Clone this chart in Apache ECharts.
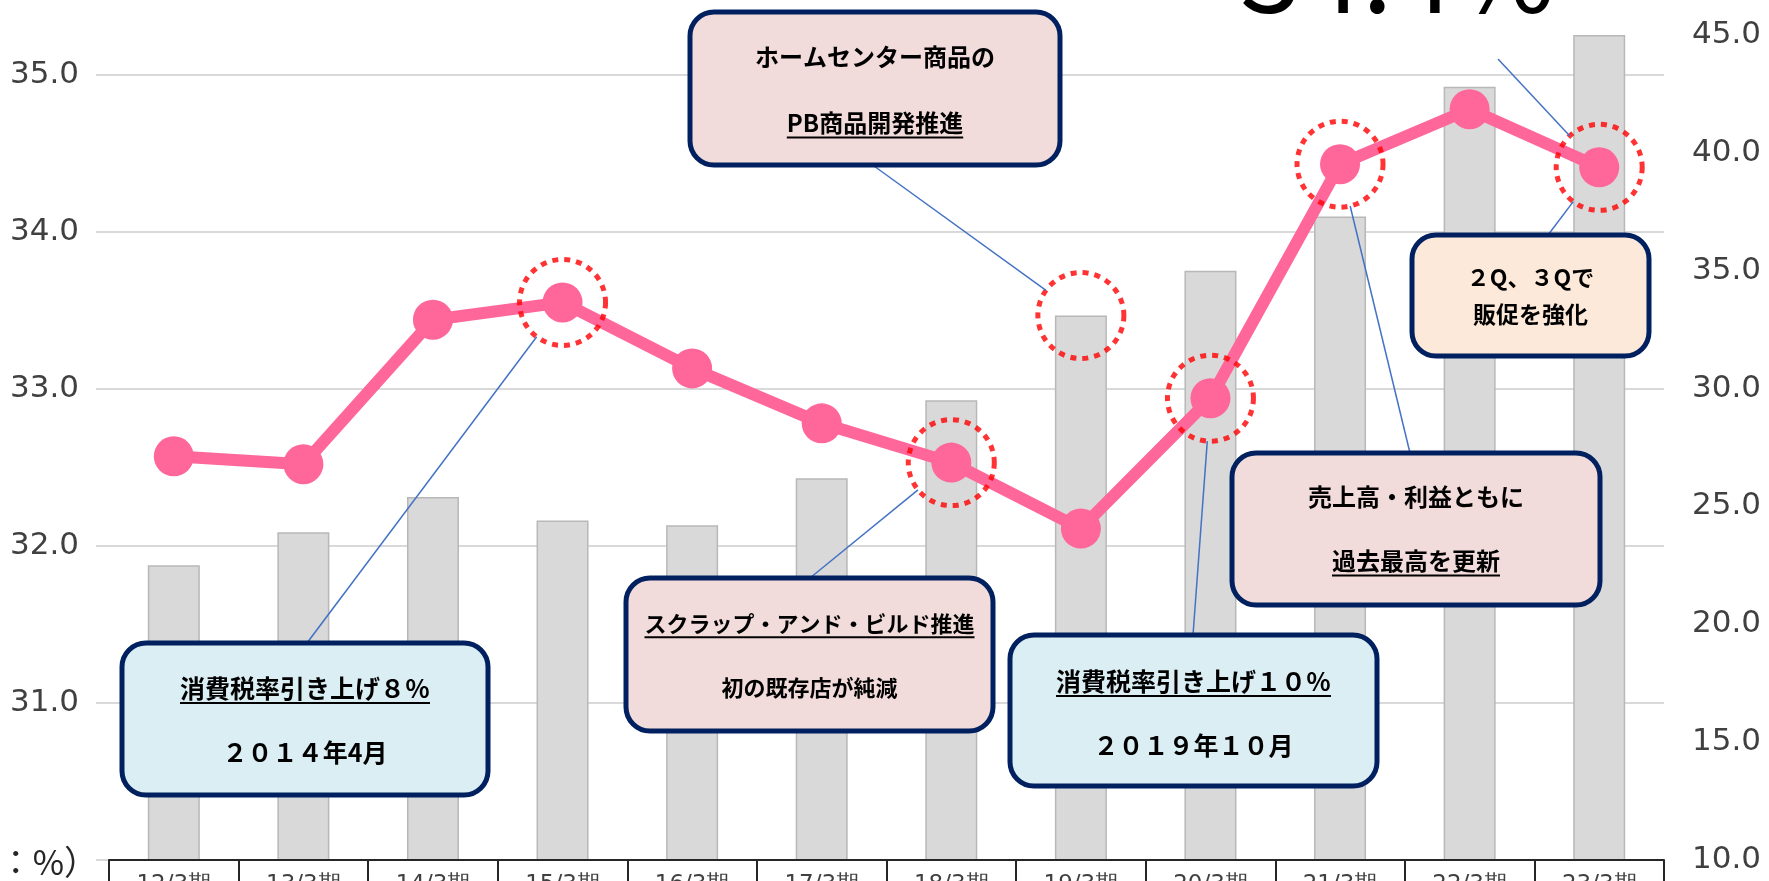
<!DOCTYPE html>
<html>
<head>
<meta charset="utf-8">
<script src="https://cdn.jsdelivr.net/npm/echarts@6/dist/echarts.min.js"></script>
<style>
html, body { margin: 0; padding: 0; background: #fff; }
#main { width: 1769px; height: 881px; }
</style>
</head>
<body>
<div id="main"></div>
<script>
// 決算期
var categories = ["12/3期", "13/3期", "14/3期", "15/3期", "16/3期", "17/3期",
  "18/3期", "19/3期", "20/3期", "21/3期", "22/3期", "23/3期"];
// 折れ線（左軸）
var lineValues = [32.57, 32.52, 33.44, 33.55, 33.13, 32.78, 32.53, 32.11, 32.94, 34.43, 34.78, 34.41];
// 棒（右軸）
var barValues = [22.5, 23.9, 25.4, 24.4, 24.2, 26.2, 29.5, 33.1, 35.0, 37.3, 42.8, 45.0];
// 軸の目盛
var leftTicks = [30, 31, 32, 33, 34, 35, 36];
var rightTicks = [10, 15, 20, 25, 30, 35, 40, 45];
// 赤い点線で囲む点
var circledLine = [3, 6, 8, 9, 11];
var circledBar = [7];

var axisFont = "DejaVu Sans";
var jpFont = '"Noto Sans CJK JP"';

var chart = echarts.init(document.getElementById("main"));

function fmt(v) {
  return v.toFixed(1);
}

chart.setOption({
  animation: false,
  grid: [
    // 目盛線用
    { left: 96, right: 105, top: -82.4, bottom: 21, outerBoundsMode: "none", containLabel: false },
    // 折れ線
    { left: 109, right: 105, top: -82.4, bottom: 21, outerBoundsMode: "none", containLabel: false },
    // 棒
    { left: 109, right: 105, top: 35, bottom: 21, outerBoundsMode: "none", containLabel: false },
  ],
  xAxis: [
    { gridIndex: 0, type: "category", data: categories, show: false },
    {
      gridIndex: 1,
      type: "category",
      data: categories,
      z: 4,
      axisLine: { lineStyle: { color: "#262626", width: 2 } },
      axisTick: { show: true, length: 40, lineStyle: { color: "#262626", width: 2 } },
      axisLabel: { fontFamily: axisFont, fontSize: 23, color: "#404040", margin: 14 },
    },
    { gridIndex: 2, type: "category", data: categories, show: false },
  ],
  yAxis: [
    {
      gridIndex: 0,
      type: "value",
      min: leftTicks[0],
      max: leftTicks[leftTicks.length - 1],
      interval: leftTicks[1] - leftTicks[0],
      position: "left",
      axisLine: { show: false },
      axisTick: { show: false },
      axisLabel: {
        formatter: fmt,
        showMinLabel: false,
        fontFamily: axisFont,
        fontSize: 31,
        color: "#404040",
        margin: 17,
      },
      splitLine: { lineStyle: { color: "#d9d9d9", width: 2 } },
    },
    {
      gridIndex: 1,
      type: "value",
      min: leftTicks[0],
      max: leftTicks[leftTicks.length - 1],
      show: false,
    },
    {
      gridIndex: 2,
      type: "value",
      min: rightTicks[0],
      max: rightTicks[rightTicks.length - 1],
      interval: rightTicks[1] - rightTicks[0],
      position: "right",
      axisLine: { show: false },
      axisTick: { show: false },
      splitLine: { show: false },
      axisLabel: {
        formatter: fmt,
        fontFamily: axisFont,
        fontSize: 31,
        color: "#404040",
        margin: 28,
      },
    },
  ],
  series: [
    {
      type: "bar",
      xAxisIndex: 2,
      yAxisIndex: 2,
      data: barValues,
      barWidth: 52,
      itemStyle: { color: "#d9d9d9", borderColor: "#b8b8b8", borderWidth: 1.5 },
    },
    {
      type: "line",
      xAxisIndex: 1,
      yAxisIndex: 1,
      data: lineValues,
      symbol: "circle",
      symbolSize: 40,
      lineStyle: { color: "#ff6699", width: 12 },
      itemStyle: { color: "#ff6699" },
      z: 3,
    },
    {
      type: "scatter",
      xAxisIndex: 1,
      yAxisIndex: 1,
      data: circledLine.map(function (i) { return [i, lineValues[i]]; }),
      symbolSize: 86,
      silent: true,
      z: 5,
      itemStyle: { color: "rgba(0,0,0,0)", borderColor: "#ff0000", borderWidth: 5, borderType: [6, 6] },
    },
    {
      type: "scatter",
      xAxisIndex: 2,
      yAxisIndex: 2,
      data: circledBar.map(function (i) { return [i, barValues[i]]; }),
      symbolSize: 86,
      silent: true,
      z: 5,
      itemStyle: { color: "rgba(0,0,0,0)", borderColor: "#ff0000", borderWidth: 5, borderType: [6, 6] },
    },
  ],
});

// 吹き出し
var ctx = document.createElement("canvas").getContext("2d");
function textWidth(str, size) {
  ctx.font = "bold " + size + "px " + jpFont;
  return ctx.measureText(str).width;
}

var elements = [];
var R = 43;

// 引出線（丸の縁まで）
function leader(ax, ay, seriesIndex, point) {
  var c = chart.convertToPixel({ seriesIndex: seriesIndex }, point);
  var dx = ax - c[0], dy = ay - c[1];
  var d = Math.sqrt(dx * dx + dy * dy);
  elements.push({
    type: "line",
    z: 90,
    shape: { x1: ax, y1: ay, x2: c[0] + (dx / d) * R, y2: c[1] + (dy / d) * R },
    style: { stroke: "#4472c4", lineWidth: 1.5 },
  });
}

function box(x, y, w, h, fill, size, lines) {
  elements.push({
    type: "rect",
    z: 100,
    shape: { x: x, y: y, width: w, height: h, r: 24 },
    style: { fill: fill, stroke: "#002060", lineWidth: 5 },
  });
  lines.forEach(function (ln) {
    var cx = x + w / 2;
    elements.push({
      type: "text",
      z: 101,
      x: cx,
      y: ln.y,
      style: {
        text: ln.text,
        font: "bold " + size + "px " + jpFont,
        fill: "#000",
        align: "center",
        verticalAlign: "middle",
        textAlign: "center",
        textVerticalAlign: "middle",
      },
    });
    if (ln.u) {
      var tw = textWidth(ln.text, size);
      elements.push({
        type: "line",
        z: 101,
        shape: { x1: cx - tw / 2, y1: ln.y + size * 0.6, x2: cx + tw / 2, y2: ln.y + size * 0.6 },
        style: { stroke: "#000", lineWidth: 2 },
      });
    }
  });
}

leader(307, 643, 2, [3, lineValues[3]]);
leader(810, 578, 2, [6, lineValues[6]]);
leader(1193, 635, 2, [8, lineValues[8]]);
leader(1410, 453, 2, [9, lineValues[9]]);
leader(874, 166, 3, [7, barValues[7]]);
leader(1548, 235, 2, [11, lineValues[11]]);
leader(1498, 59, 2, [11, lineValues[11]]);

box(122, 643, 366, 152, "#daeef3", 25, [
  { text: "消費税率引き上げ８％", y: 688, u: true },
  { text: "２０１４年4月", y: 752 },
]);
box(626, 578, 367, 153, "#f2dcdb", 22, [
  { text: "スクラップ・アンド・ビルド推進", y: 624, u: true },
  { text: "初の既存店が純減", y: 688 },
]);
box(1010, 635, 367, 151, "#daeef3", 25, [
  { text: "消費税率引き上げ１０％", y: 681, u: true },
  { text: "２０１９年１０月", y: 745 },
]);
box(1232, 453, 368, 152, "#f2dcdb", 24, [
  { text: "売上高・利益ともに", y: 497 },
  { text: "過去最高を更新", y: 561, u: true },
]);
box(690, 12, 370, 153, "#f2dcdb", 24, [
  { text: "ホームセンター商品の", y: 57 },
  { text: "PB商品開発推進", y: 123, u: true },
]);
box(1412, 235, 237, 121, "#fde9d9", 23, [
  { text: "２Q、３Qで", y: 277 },
  { text: "販促を強化", y: 314 },
]);

// 上端で切れている大きな数字
elements.push({
  type: "text",
  z: 100,
  x: 1240,
  y: -29,
  style: {
    text: "34.4%",
    font: "normal 110px " + jpFont,
    fill: "#000",
    align: "left",
    verticalAlign: "middle",
    textAlign: "left",
    textVerticalAlign: "middle",
  },
});
// 単位
elements.push({
  type: "text",
  z: 100,
  x: 98,
  y: 862,
  style: {
    text: "（単位：%）",
    font: "normal 34px " + jpFont,
    fill: "#262626",
    align: "right",
    verticalAlign: "middle",
    textAlign: "right",
    textVerticalAlign: "middle",
  },
});

chart.setOption({ graphic: { elements: elements } });
</script>
</body>
</html>
